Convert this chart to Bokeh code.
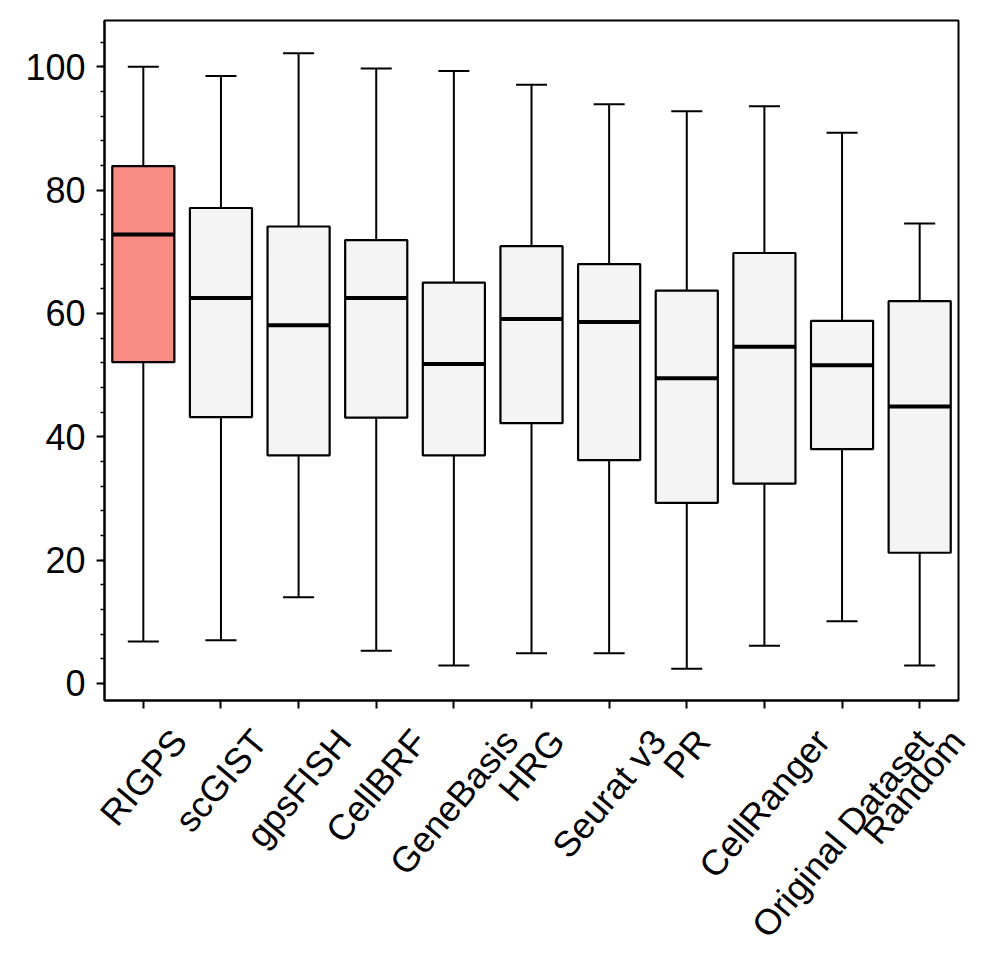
from bokeh.plotting import figure
from bokeh.models import FixedTicker, Range1d, CustomJSTickFormatter
from bokeh.embed import file_html
from bokeh.resources import INLINE
import math

methods = ["RIGPS", "scGIST", "gpsFISH", "CellBRF", "GeneBasis", "HRG",
           "Seurat v3", "PR", "CellRanger", "Original Dataset", "Random"]
upper = [100.0, 98.5, 102.2, 99.7, 99.3, 97.1, 93.9, 92.8, 93.6, 89.3, 74.6]
q3 = [83.9, 77.1, 74.1, 71.9, 65.0, 70.9, 68.0, 63.7, 69.8, 58.8, 62.0]
median = [72.8, 62.5, 58.1, 62.5, 51.8, 59.1, 58.6, 49.5, 54.6, 51.6, 44.9]
q1 = [52.1, 43.2, 37.0, 43.1, 37.0, 42.2, 36.2, 29.3, 32.4, 38.0, 21.2]
lower = [6.8, 7.0, 14.0, 5.3, 2.9, 4.9, 4.9, 2.4, 6.1, 10.1, 2.9]
fills = ["#f88c84"] + ["#f4f4f4"] * 10
yticks = [0, 20, 40, 60, 80, 100]

FONT = "Liberation Sans"
FS = 36
FS_Y = 36
BOX_W = 0.8
CAP_W = 0.4
Y0, Y1 = -2.76, 107.5
LEFT, TOP, RIGHT = 104, 20, 35
FRAME_W, FRAME_H = 854, 680
BOTTOM = 250

x = list(range(len(methods)))
X0, X1 = -0.5, len(methods) - 0.5

p = figure(frame_width=FRAME_W, frame_height=FRAME_H,
           min_border_left=LEFT, min_border_right=RIGHT,
           min_border_top=TOP, min_border_bottom=BOTTOM,
           x_range=Range1d(X0, X1), y_range=Range1d(Y0, Y1),
           output_backend="svg", toolbar_location=None)
p.background_fill_color = "white"
p.border_fill_color = "white"
p.outline_line_color = "black"
p.outline_line_width = 2
p.xgrid.visible = False
p.ygrid.visible = False

# whiskers and caps
p.segment(x0=x, y0=q3, x1=x, y1=upper, line_color="black", line_width=2)
p.segment(x0=x, y0=q1, x1=x, y1=lower, line_color="black", line_width=2)
cx0 = [v - CAP_W / 2 for v in x]
cx1 = [v + CAP_W / 2 for v in x]
p.segment(x0=cx0, y0=upper, x1=cx1, y1=upper, line_color="black", line_width=2)
p.segment(x0=cx0, y0=lower, x1=cx1, y1=lower, line_color="black", line_width=2)
# boxes and medians
p.vbar(x=x, bottom=q1, top=q3, width=BOX_W, fill_color=fills,
       line_color="black", line_width=2.2)
bx0 = [v - BOX_W / 2 for v in x]
bx1 = [v + BOX_W / 2 for v in x]
p.segment(x0=bx0, y0=median, x1=bx1, y1=median, line_color="black", line_width=4)

for ax in (p.xaxis[0], p.yaxis[0]):
    ax.axis_line_width = 2
    ax.major_tick_line_width = 2
    ax.minor_tick_line_width = 1.5
    ax.major_tick_out = 8
    ax.major_tick_in = 0
    ax.minor_tick_out = 4
    ax.minor_tick_in = 0
    ax.major_label_text_font = FONT
    ax.major_label_text_color = "black"

p.yaxis.major_label_text_font_size = f"{FS_Y}px"
p.yaxis.ticker = FixedTicker(ticks=yticks, minor_ticks=list(range(0, 105, 4)))
p.yaxis.major_label_standoff = 11

# x axis: visible tick marks at the categories (drawn as minor ticks);
# labels sit on invisible major ticks shifted so that each rotated label is
# centred under its category, as matplotlib does with ha='center'.
Wd = {' ': 278, '3': 556, 'B': 667, 'C': 722, 'D': 722, 'E': 667, 'F': 611,
      'G': 778, 'H': 722, 'I': 278, 'O': 778, 'P': 667, 'R': 722, 'S': 667,
      'T': 611, 'a': 556, 'c': 500, 'd': 556, 'e': 556, 'g': 556, 'i': 222,
      'l': 222, 'm': 833, 'n': 556, 'o': 556, 'p': 556, 'r': 333, 's': 500,
      't': 278, 'v': 500}
ang = math.radians(50)
ppx = FRAME_W / len(methods)
anchors = []
for i, name in enumerate(methods):
    L = sum(Wd.get(c, 556) for c in name) * FS / 1000.0
    anchors.append(min(i + (L / 2) * math.cos(ang) / ppx, X1 - 0.012))

xa = p.xaxis[0]
xa.ticker = FixedTicker(ticks=anchors, minor_ticks=x)
xa.formatter = CustomJSTickFormatter(args=dict(labels=methods),
                                     code="return labels[index];")
xa.major_tick_line_color = None
xa.minor_tick_out = 8
xa.minor_tick_line_width = 2
xa.major_label_orientation = ang
xa.major_label_standoff = 26
xa.major_label_text_font_size = f"{FS}px"

open("out.html", "w").write(file_html(p, INLINE))
